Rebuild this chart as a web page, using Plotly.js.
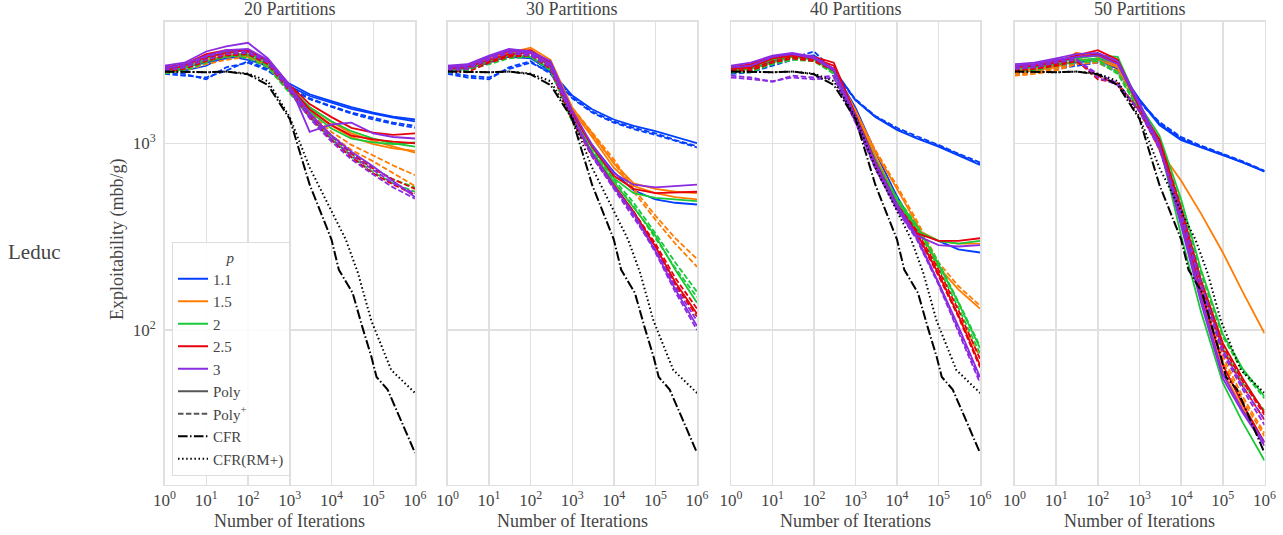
<!DOCTYPE html>
<html>
<head>
<meta charset="utf-8">
<script src="https://cdn.plot.ly/plotly-3.0.1.min.js"></script>
<style>html,body{margin:0;padding:0;background:#fff;}#chart{width:1283px;height:535px;}</style>
</head>
<body>
<div id="chart"></div>
<script>
// ---------------- DATA ----------------
const iters = [1, 3, 10, 30, 100, 300, 1000, 3000, 10000, 30000, 100000, 300000, 1000000];

const cfrIters = [1, 3, 10, 30, 100, 300, 1000, 3000, 10000, 15000, 32000, 56000, 90000, 120000, 220000, 1000000];
const cfrVals  = [2420, 2400, 2400, 2420, 2340, 2050, 1350, 600, 305, 210, 158, 102, 72, 56, 48, 22];
const rmIters  = [1, 3, 10, 30, 100, 300, 1000, 3000, 10000, 22000, 43000, 90000, 270000, 570000, 1000000];
const rmVals   = [2420, 2410, 2400, 2420, 2360, 2150, 1380, 740, 430, 305, 202, 112, 61, 52, 46];

const pLabels = ['1.1', '1.5', '2', '2.5', '3'];
const pColors = ['#023eff', '#ff7c00', '#1ac938', '#e8000b', '#8b2be2'];
const panelTitles = ['20 Partitions', '30 Partitions', '40 Partitions', '50 Partitions'];
const xTickVals = [1, 10, 100, 1000, 10000, 100000, 1000000];
const xTickText = ['10<sup>0</sup>', '10<sup>1</sup>', '10<sup>2</sup>', '10<sup>3</sup>', '10<sup>4</sup>', '10<sup>5</sup>', '10<sup>6</sup>'];
const yTickVals = [100, 1000];
const yTickText = ['10<sup>2</sup>', '10<sup>3</sup>'];

// 20 partitions
const p20_poly_11 = [[2450, 2550, 2700, 2850, 2950, 2550, 2080, 1830, 1680, 1560, 1460, 1390, 1340],
                     [2550, 2450, 2600, 2950, 2800, 2600, 2020, 1790, 1650, 1530, 1440, 1370, 1310]];
const p20_polyp_11 = [[2400, 2350, 2200, 2550, 2700, 2450, 1990, 1740, 1580, 1460, 1370, 1290, 1240],
                      [2350, 2300, 2250, 2450, 2750, 2500, 1960, 1720, 1560, 1440, 1340, 1270, 1210]];
const p20_poly_15 = [[2500, 2550, 2800, 2950, 3050, 2700, 1950, 1560, 1300, 1130, 1030, 960, 890],
                     [2400, 2600, 2900, 3000, 2900, 2650, 1900, 1500, 1240, 1080, 990, 940, 910]];
const p20_polyp_15 = [[2450, 2500, 2750, 2900, 2950, 2600, 1900, 1460, 1150, 980, 860, 760, 675],
                      [2380, 2450, 2650, 2800, 2900, 2550, 1880, 1420, 1100, 920, 800, 690, 590]];
const p20_poly_2 = [[2450, 2550, 2750, 2900, 3000, 2750, 2000, 1560, 1310, 1160, 1060, 1000, 960],
                    [2350, 2500, 2850, 3100, 2950, 2650, 1950, 1480, 1200, 1060, 1010, 990, 1010]];
const p20_polyp_2 = [[2500, 2450, 2700, 2950, 3000, 2600, 1900, 1400, 1080, 880, 740, 640, 580],
                     [2400, 2550, 2800, 3000, 2850, 2550, 1850, 1380, 1050, 850, 700, 610, 550]];
const p20_poly_25 = [[2550, 2650, 3000, 3150, 3100, 2800, 2050, 1620, 1380, 1210, 1140, 1110, 1130],
                     [2450, 2600, 2900, 3050, 3150, 2750, 2000, 1520, 1250, 1100, 1050, 1020, 1000]];
const p20_polyp_25 = [[2500, 2600, 2850, 3000, 3050, 2700, 1950, 1420, 1100, 880, 730, 640, 570],
                      [2400, 2500, 2750, 2950, 3000, 2650, 1900, 1380, 1040, 840, 690, 600, 530]];
const p20_poly_3 = [[2600, 2700, 3100, 3300, 3450, 2850, 2050, 1150, 1260, 1290, 1130, 1080, 1060],
                    [2500, 2650, 2950, 3150, 3200, 2800, 2000, 1450, 1100, 900, 750, 630, 515]];
const p20_polyp_3 = [[2550, 2600, 2900, 3100, 3100, 2750, 1950, 1400, 1060, 860, 720, 610, 540],
                     [2450, 2550, 2800, 3000, 3050, 2700, 1900, 1360, 1020, 820, 680, 580, 505]];

// 30 partitions
const p30_poly_11 = [[2500, 2550, 2750, 2900, 2850, 2450, 1800, 1520, 1340, 1240, 1160, 1080, 1000],
                     [2450, 2500, 2700, 2950, 2900, 2400, 1450, 980, 700, 560, 500, 480, 470]];
const p30_polyp_11 = [[2400, 2300, 2250, 2500, 2700, 2400, 1760, 1480, 1310, 1210, 1130, 1040, 965],
                      [2350, 2250, 2200, 2550, 2750, 2350, 1740, 1460, 1290, 1190, 1110, 1030, 950]];
const p30_poly_15 = [[2550, 2600, 2850, 3050, 3250, 2800, 1550, 1130, 780, 610, 570, 550, 540],
                     [2450, 2550, 2800, 3000, 3150, 2700, 1500, 1080, 740, 590, 540, 515, 500]];
const p30_polyp_15 = [[2500, 2500, 2750, 2950, 3100, 2650, 1550, 1150, 820, 570, 410, 310, 240],
                      [2450, 2450, 2700, 2900, 3050, 2600, 1500, 1100, 790, 550, 390, 290, 218]];
const p30_poly_2 = [[2500, 2550, 2800, 2950, 2900, 2500, 1380, 950, 650, 540, 510, 500, 490],
                    [2450, 2500, 2750, 3000, 3100, 2550, 1350, 900, 620, 450, 320, 210, 140]];
const p30_polyp_2 = [[2500, 2450, 2700, 2900, 2950, 2500, 1350, 920, 640, 480, 330, 230, 160],
                     [2400, 2500, 2650, 2850, 2900, 2450, 1300, 890, 620, 460, 310, 215, 150]];
const p30_poly_25 = [[2550, 2600, 2900, 3100, 3150, 2700, 1450, 960, 670, 570, 540, 545, 550],
                     [2500, 2550, 2800, 3000, 3050, 2600, 1380, 880, 600, 430, 280, 180, 122]];
const p30_polyp_25 = [[2600, 2500, 2750, 2950, 3000, 2550, 1350, 870, 590, 430, 290, 190, 130],
                      [2450, 2400, 2700, 2900, 2950, 2500, 1320, 850, 580, 420, 280, 175, 118]];
const p30_poly_3 = [[2600, 2650, 2950, 3200, 3100, 2750, 1500, 980, 690, 600, 580, 590, 600],
                    [2550, 2600, 2900, 3150, 3050, 2650, 1400, 880, 590, 420, 265, 165, 105]];
const p30_polyp_3 = [[2500, 2550, 2850, 3100, 3000, 2600, 1380, 860, 580, 410, 260, 160, 100],
                     [2450, 2500, 2800, 3050, 2950, 2550, 1360, 850, 570, 400, 270, 170, 112]];

// 40 partitions
const p40_poly_11 = [[2500, 2600, 2800, 3000, 2900, 2500, 1700, 1380, 1180, 1060, 960, 860, 765],
                     [2450, 2500, 2750, 2900, 2950, 2450, 1550, 900, 520, 340, 300, 270, 260]];
const p40_polyp_11 = [[2400, 2450, 2650, 2850, 3100, 2450, 1720, 1400, 1210, 1090, 980, 880, 790],
                      [2350, 2400, 2600, 2800, 2950, 2400, 1700, 1390, 1190, 1070, 970, 870, 775]];
const p40_poly_15 = [[2550, 2600, 2850, 3000, 2900, 2500, 1500, 900, 570, 370, 218, 165, 130],
                     [2450, 2550, 2800, 2950, 2850, 2450, 1450, 850, 500, 345, 300, 290, 290]];
const p40_polyp_15 = [[2500, 2500, 2750, 2900, 2800, 2450, 1480, 920, 590, 385, 230, 172, 135],
                      [2400, 2450, 2700, 2850, 2750, 2400, 1420, 820, 480, 330, 200, 120, 72]];
const p40_poly_2 = [[2500, 2550, 2800, 2950, 2850, 2450, 1400, 820, 490, 340, 300, 290, 300],
                    [2450, 2500, 2700, 2900, 2800, 2400, 1380, 800, 500, 360, 225, 140, 80]];
const p40_polyp_2 = [[2500, 2450, 2700, 2850, 2800, 2400, 1380, 810, 510, 365, 230, 142, 82],
                     [2400, 2400, 2650, 2800, 2750, 2350, 1350, 790, 490, 350, 215, 132, 75]];
const p40_poly_25 = [[2550, 2650, 2900, 3000, 2900, 2700, 1420, 800, 470, 330, 300, 300, 310],
                     [2500, 2550, 2850, 2950, 2850, 2600, 1350, 770, 460, 330, 200, 120, 65]];
const p40_polyp_25 = [[2500, 2500, 2750, 2900, 2800, 2500, 1330, 780, 470, 340, 210, 128, 70],
                      [2450, 2450, 2700, 2850, 2750, 2450, 1320, 760, 455, 325, 195, 118, 63]];
const p40_poly_3 = [[2600, 2700, 2950, 3050, 2900, 2500, 1400, 790, 470, 320, 285, 280, 285],
                    [2550, 2600, 2900, 3000, 2850, 2450, 1330, 750, 450, 315, 180, 105, 56]];
const p40_polyp_3 = [[2300, 2250, 2130, 2300, 2250, 2300, 1300, 740, 445, 310, 178, 100, 54],
                     [2250, 2200, 2150, 2250, 2200, 2250, 1290, 730, 440, 305, 175, 98, 52]];

// 50 partitions
const p50_poly_11 = [[2500, 2550, 2650, 2700, 2800, 2500, 1700, 1250, 1040, 950, 866, 790, 705],
                     [2450, 2500, 2600, 2750, 2850, 2550, 1720, 1270, 1050, 955, 870, 792, 708]];
const p50_polyp_11 = [[2400, 2450, 2550, 2650, 2750, 2450, 1680, 1300, 1080, 970, 880, 800, 712],
                      [2350, 2400, 2500, 2600, 2700, 2400, 1660, 1280, 1070, 960, 875, 795, 710]];
const p50_poly_15 = [[2450, 2500, 2600, 3050, 2900, 2600, 1600, 920, 630, 420, 260, 160, 96],
                     [2400, 2450, 2550, 2800, 2800, 2550, 1550, 980, 380, 150, 60, 38, 25]];
const p50_polyp_15 = [[2350, 2400, 2500, 2700, 2750, 2450, 1500, 950, 420, 175, 72, 44, 28],
                      [2300, 2350, 2450, 2650, 2700, 2400, 1480, 930, 400, 165, 68, 42, 27]];
const p50_poly_2 = [[2550, 2600, 2700, 2850, 2950, 2900, 1600, 1100, 500, 210, 95, 62, 44],
                    [2500, 2550, 2650, 2750, 2850, 2700, 1500, 1000, 320, 125, 52, 32, 20]];
const p50_polyp_2 = [[2500, 2500, 2650, 2800, 2800, 2400, 1520, 1050, 470, 200, 92, 60, 43],
                     [2450, 2450, 2600, 2700, 2750, 2350, 1480, 980, 430, 180, 80, 52, 37]];
const p50_poly_25 = [[2600, 2650, 2750, 2950, 3150, 2800, 1600, 1000, 400, 160, 65, 40, 25],
                     [2550, 2600, 2700, 2900, 3000, 2700, 1550, 1050, 450, 185, 85, 55, 36]];
const p50_polyp_25 = [[2500, 2550, 2650, 2800, 2200, 2100, 1500, 960, 440, 180, 82, 53, 35],
                      [2450, 2500, 2600, 2750, 2300, 2050, 1480, 940, 420, 175, 78, 50, 33]];
const p50_poly_3 = [[2650, 2700, 2850, 3000, 3050, 2750, 1650, 980, 360, 140, 55, 36, 24],
                    [2600, 2650, 2800, 2900, 2950, 2650, 1600, 960, 380, 150, 58, 37, 25]];
const p50_polyp_3 = [[2550, 2600, 2750, 2850, 2250, 2050, 1500, 950, 430, 178, 78, 50, 33],
                     [2500, 2550, 2700, 2800, 2350, 2100, 1480, 930, 410, 170, 75, 48, 31]];

// ---------------- BUILD ----------------
const panels = [
  {poly: [p20_poly_11, p20_poly_15, p20_poly_2, p20_poly_25, p20_poly_3], polyp: [p20_polyp_11, p20_polyp_15, p20_polyp_2, p20_polyp_25, p20_polyp_3]},
  {poly: [p30_poly_11, p30_poly_15, p30_poly_2, p30_poly_25, p30_poly_3], polyp: [p30_polyp_11, p30_polyp_15, p30_polyp_2, p30_polyp_25, p30_polyp_3]},
  {poly: [p40_poly_11, p40_poly_15, p40_poly_2, p40_poly_25, p40_poly_3], polyp: [p40_polyp_11, p40_polyp_15, p40_polyp_2, p40_polyp_25, p40_polyp_3]},
  {poly: [p50_poly_11, p50_poly_15, p50_poly_2, p50_poly_25, p50_poly_3], polyp: [p50_polyp_11, p50_polyp_15, p50_polyp_2, p50_polyp_25, p50_polyp_3]}
];

const W = 1283, H = 535;
const xPix = [[164.5, 415], [447.5, 697], [731, 980], [1014.5, 1264.5]];
const yTop = 21.5, yBot = 484.5;
const DASH = '5.5px,2.4px';
const DASHDOT = '9.6px,2.4px,1.5px,2.4px';
const DOT = '1.5px,2.6px';

const traces = [];
panels.forEach((pan, i) => {
  const xa = i === 0 ? 'x' : 'x' + (i + 1);
  const ya = i === 0 ? 'y' : 'y' + (i + 1);
  pLabels.forEach((p, j) => {
    pan.poly[j].forEach(vals => traces.push({x: iters, y: vals, xaxis: xa, yaxis: ya, mode: 'lines', showlegend: false, hoverinfo: 'skip', line: {color: pColors[j], width: 1.8}}));
    pan.polyp[j].forEach(vals => traces.push({x: iters, y: vals, xaxis: xa, yaxis: ya, mode: 'lines', showlegend: false, hoverinfo: 'skip', line: {color: pColors[j], width: 1.8, dash: DASH}}));
  });
  traces.push({x: cfrIters, y: cfrVals, xaxis: xa, yaxis: ya, mode: 'lines', showlegend: false, hoverinfo: 'skip', line: {color: '#000', width: 2, dash: DASHDOT}});
  traces.push({x: rmIters, y: rmVals, xaxis: xa, yaxis: ya, mode: 'lines', showlegend: false, hoverinfo: 'skip', line: {color: '#000', width: 2, dash: DOT}});
});
// legend entries
pLabels.forEach((p, j) => traces.push({x: [null], y: [null], mode: 'lines', name: p, line: {color: pColors[j], width: 2}}));
traces.push({x: [null], y: [null], mode: 'lines', name: 'Poly', line: {color: '#555', width: 2}});
traces.push({x: [null], y: [null], mode: 'lines', name: 'Poly<sup>+</sup>', line: {color: '#555', width: 2, dash: DASH}});
traces.push({x: [null], y: [null], mode: 'lines', name: 'CFR', line: {color: '#000', width: 2, dash: DASHDOT}});
traces.push({x: [null], y: [null], mode: 'lines', name: 'CFR(RM+)', line: {color: '#000', width: 2, dash: DOT}});

const FONT = 'Liberation Serif, DejaVu Serif, serif';
const TXT = '#444';
const GRID = '#e0e0e0';
const yDom = [1 - yBot / H, 1 - yTop / H];

const layout = {
  width: W, height: H,
  margin: {l: 0, r: 0, t: 0, b: 0},
  paper_bgcolor: '#fff', plot_bgcolor: '#fff',
  font: {family: FONT, color: TXT, size: 18},
  showlegend: true,
  legend: {
    x: 172 / W, y: 1 - 242 / H, xanchor: 'left', yanchor: 'top',
    bgcolor: 'rgba(255,255,255,0.85)', bordercolor: '#dddddd', borderwidth: 1,
    font: {family: FONT, size: 15, color: TXT},
    title: {text: '<i>p</i>', side: 'top center', font: {family: FONT, size: 15, color: TXT}},
    tracegroupgap: 0
  },
  annotations: []
};

xPix.forEach((px, i) => {
  const sfx = i === 0 ? '' : String(i + 1);
  layout['xaxis' + sfx] = {
    type: 'log', range: [0, 6], domain: [px[0] / W, px[1] / W], anchor: 'y' + sfx,
    tickvals: xTickVals, ticktext: xTickText, ticks: '',
    showgrid: true, gridcolor: GRID, gridwidth: 1.5,
    showline: true, linecolor: GRID, linewidth: 1.5, mirror: true, zeroline: false,
    tickfont: {family: FONT, size: 17, color: TXT}
  };
  layout['yaxis' + sfx] = {
    type: 'log', range: [1.1725, 3.652], domain: yDom, anchor: 'x' + sfx,
    tickvals: yTickVals, ticktext: yTickText, ticks: '', showticklabels: i === 0,
    ticklabelstandoff: 4,
    showgrid: true, gridcolor: GRID, gridwidth: 1.5,
    showline: true, linecolor: GRID, linewidth: 1.5, mirror: true, zeroline: false,
    tickfont: {family: FONT, size: 17, color: TXT}
  };
  layout.annotations.push({text: panelTitles[i], xref: 'paper', yref: 'paper', x: (px[0] + px[1]) / 2 / W, y: 1 - 9 / H, xanchor: 'center', yanchor: 'middle', showarrow: false, font: {family: FONT, size: 18, color: TXT}});
  layout.annotations.push({text: 'Number of Iterations', xref: 'paper', yref: 'paper', x: (px[0] + px[1]) / 2 / W, y: 1 - 521 / H, xanchor: 'center', yanchor: 'middle', showarrow: false, font: {family: FONT, size: 18, color: TXT}});
});
layout.annotations.push({text: 'Exploitability (mbb/g)', xref: 'paper', yref: 'paper', x: 117 / W, y: 1 - 240 / H, xanchor: 'center', yanchor: 'middle', textangle: -90, showarrow: false, font: {family: FONT, size: 18, color: TXT}});
layout.annotations.push({text: 'Leduc', xref: 'paper', yref: 'paper', x: 34 / W, y: 1 - 252 / H, xanchor: 'center', yanchor: 'middle', showarrow: false, font: {family: FONT, size: 21, color: TXT}});

Plotly.newPlot('chart', traces, layout, {displayModeBar: false, staticPlot: true});
</script>
</body>
</html>
